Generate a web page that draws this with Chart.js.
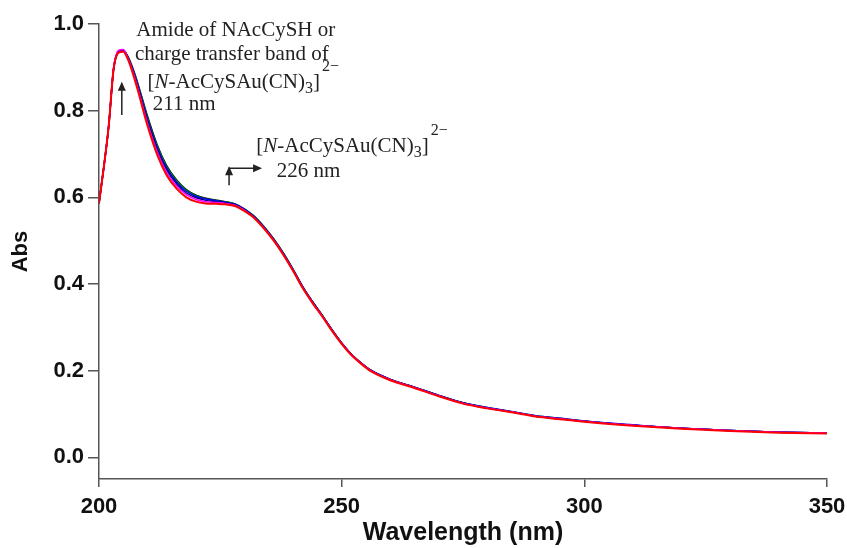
<!DOCTYPE html>
<html>
<head>
<meta charset="utf-8">
<script src="https://cdn.jsdelivr.net/npm/chart.js@4.4.1/dist/chart.umd.min.js"></script>
<style>
  body { margin: 0; background: #fff; }
  canvas { display: block; }
</style>
</head>
<body>
<canvas id="spectra" width="847" height="548"></canvas>
<script>
// wavelengths (nm)
const wavelengths = [200,201,202,203,204,205,206,207,208,210,212,214,216,218,220,222,224,226,228,230,232,234,236,238,240,242,244,246,248,250,252,254,256,260,265,270,275,280,285,290,295,300,310,320,330,340,350]

// absorbance of each scan
const absRed     = [0.586,0.670,0.765,0.895,0.934,0.936,0.917,0.885,0.847,0.765,0.698,0.650,0.620,0.600,0.590,0.586,0.585,0.584,0.580,0.568,0.552,0.528,0.500,0.467,0.430,0.390,0.356,0.325,0.292,0.262,0.236,0.216,0.199,0.178,0.160,0.141,0.124,0.113,0.104,0.094,0.088,0.082,0.073,0.066,0.061,0.057,0.055]
const absMagenta = [0.588,0.672,0.766,0.898,0.939,0.941,0.920,0.889,0.852,0.771,0.705,0.656,0.626,0.606,0.595,0.590,0.588,0.586,0.582,0.570,0.553,0.529,0.501,0.468,0.431,0.391,0.357,0.326,0.293,0.263,0.237,0.217,0.200,0.179,0.161,0.142,0.125,0.114,0.105,0.095,0.089,0.083,0.074,0.067,0.062,0.058,0.056]
const absNavy    = [0.587,0.671,0.765,0.896,0.936,0.940,0.921,0.891,0.855,0.776,0.710,0.662,0.631,0.610,0.599,0.593,0.590,0.588,0.583,0.571,0.554,0.530,0.502,0.469,0.432,0.392,0.358,0.327,0.294,0.263,0.237,0.217,0.200,0.179,0.161,0.142,0.125,0.114,0.105,0.095,0.089,0.083,0.074,0.067,0.062,0.058,0.056]
const absBlue    = [0.587,0.671,0.765,0.896,0.936,0.939,0.922,0.893,0.858,0.780,0.714,0.666,0.635,0.614,0.602,0.596,0.592,0.589,0.584,0.572,0.555,0.531,0.503,0.470,0.433,0.393,0.359,0.327,0.294,0.264,0.238,0.218,0.201,0.180,0.162,0.143,0.126,0.115,0.106,0.096,0.090,0.084,0.075,0.067,0.062,0.058,0.056]
const absGreen   = [0.586,0.670,0.764,0.895,0.934,0.938,0.923,0.895,0.861,0.784,0.718,0.670,0.639,0.617,0.604,0.597,0.593,0.590,0.585,0.573,0.556,0.532,0.504,0.471,0.434,0.394,0.359,0.328,0.295,0.264,0.238,0.218,0.201,0.180,0.162,0.143,0.126,0.115,0.105,0.096,0.090,0.084,0.074,0.067,0.062,0.058,0.056]
const absBlack   = [0.586,0.670,0.764,0.895,0.935,0.939,0.924,0.897,0.863,0.787,0.721,0.672,0.640,0.618,0.605,0.598,0.594,0.590,0.585,0.573,0.556,0.532,0.504,0.471,0.433,0.393,0.359,0.327,0.294,0.264,0.238,0.218,0.201,0.180,0.162,0.143,0.126,0.114,0.105,0.095,0.089,0.083,0.074,0.067,0.062,0.058,0.056]

const xTicks = [200, 250, 300, 350]
const yTicks = [0.0, 0.2, 0.4, 0.6, 0.8, 1.0]

Chart.defaults.font.family = '"Liberation Sans", Arial, sans-serif'
Chart.defaults.color = '#000'

function scan(values, color, width) {
    return {
        data: wavelengths.map((w, i) => ({ x: w, y: values[i] })),
        borderColor: color,
        borderWidth: width,
        pointRadius: 0,
        cubicInterpolationMode: 'monotone',
        fill: false
    }
}

// draws text pieces one after another (italic, sub, sup)
function richText(ctx, parts, x, y) {
    let cx = x
    parts.forEach(p => {
        const size = p.small ? 16 : 21
        ctx.font = (p.italic ? 'italic ' : '') + size + 'px "Liberation Serif", "Times New Roman", serif'
        ctx.fillText(p.t, cx, y + (p.dy || 0))
        cx += ctx.measureText(p.t).width + (p.gap || 0)
    })
}

function arrowHead(ctx, x, y, dir) {
    ctx.beginPath()
    if (dir === 'up') {
        ctx.moveTo(x, y); ctx.lineTo(x - 4, y + 9); ctx.lineTo(x + 4, y + 9)
    } else {
        ctx.moveTo(x, y); ctx.lineTo(x - 9, y - 4); ctx.lineTo(x - 9, y + 4)
    }
    ctx.closePath()
    ctx.fill()
}

const complexParts = [
    { t: '[' }, { t: 'N', italic: true }, { t: '-AcCySAu(CN)' },
    { t: '3', small: true, dy: 5 }, { t: ']', gap: 2 }, { t: '2\u2212', small: true, dy: -17 }
]

const annotations = {
    id: 'annotations',
    afterDraw(chart) {
        const ctx = chart.ctx
        const xs = chart.scales.x
        const ys = chart.scales.y
        const px = v => xs.getPixelForValue(v)
        const py = v => ys.getPixelForValue(v)

        ctx.save()
        ctx.fillStyle = '#222'
        ctx.strokeStyle = '#222'
        ctx.lineWidth = 1.5
        ctx.textBaseline = 'alphabetic'
        ctx.textAlign = 'left'

        // 211 nm band
        richText(ctx, [{ t: 'Amide of NAcCySH or' }], px(207.7), py(0.972))
        richText(ctx, [{ t: 'charge transfer band of' }], px(207.4), py(0.917))
        richText(ctx, complexParts, px(210.0), py(0.852))
        richText(ctx, [{ t: '211 nm' }], px(211.1), py(0.801))

        ctx.beginPath()
        ctx.moveTo(px(204.7), py(0.790))
        ctx.lineTo(px(204.7), py(0.862))
        ctx.stroke()
        arrowHead(ctx, px(204.7), py(0.867), 'up')

        // 226 nm band
        richText(ctx, complexParts, px(232.4), py(0.705))
        richText(ctx, [{ t: '226 nm' }], px(236.6), py(0.647))

        ctx.beginPath()
        ctx.moveTo(px(226.8), py(0.628))
        ctx.lineTo(px(226.8), py(0.667))
        ctx.lineTo(px(233.0), py(0.667))
        ctx.stroke()
        arrowHead(ctx, px(226.8), py(0.672), 'up')
        arrowHead(ctx, px(233.6), py(0.667), 'right')

        ctx.restore()
    }
}

new Chart(document.getElementById('spectra'), {
    type: 'line',
    data: {
        datasets: [
            scan(absRed, '#ff0000', 2),
            scan(absMagenta, '#ff00ff', 1.5),
            scan(absNavy, '#000080', 1.5),
            scan(absBlue, '#0000ff', 1.5),
            scan(absGreen, '#008000', 1.5),
            scan(absBlack, '#000000', 1.5)
        ]
    },
    options: {
        responsive: false,
        animation: false,
        layout: { padding: { top: 24, right: 20, left: 0, bottom: 0 } },
        plugins: { legend: { display: false }, tooltip: { enabled: false } },
        scales: {
            x: {
                type: 'linear',
                min: 200,
                max: 350,
                afterBuildTicks: axis => { axis.ticks = xTicks.map(v => ({ value: v })) },
                afterFit: axis => {
                    axis.height = 69
                    axis.paddingLeft = 0
                    axis.paddingRight = 0
                },
                border: { display: true, color: '#555', width: 1.5 },
                grid: { display: true, drawOnChartArea: false, drawTicks: true, tickLength: 8, color: '#555', lineWidth: 1.5 },
                ticks: { padding: 7, font: { size: 22, weight: 'bold' }, color: '#111', maxRotation: 0 },
                title: {
                    display: true,
                    text: 'Wavelength (nm)',
                    font: { size: 25, weight: 'bold' },
                    color: '#111',
                    padding: { top: 0, bottom: 0 }
                }
            },
            y: {
                type: 'linear',
                min: -0.05,
                max: 1.0,
                afterBuildTicks: axis => { axis.ticks = yTicks.map(v => ({ value: v })) },
                afterFit: axis => {
                    axis.width = 99
                    axis.paddingTop = 0
                    axis.paddingBottom = 0
                },
                border: { display: true, color: '#555', width: 1.5 },
                grid: { display: true, drawOnChartArea: false, drawTicks: true, tickLength: 11, color: '#555', lineWidth: 1.5 },
                ticks: {
                    padding: 4,
                    font: { size: 22, weight: 'bold' },
                    color: '#111',
                    callback: value => value.toFixed(1)
                },
                title: {
                    display: true,
                    text: 'Abs',
                    font: { size: 22, weight: 'bold' },
                    color: '#111',
                    padding: { top: 8, bottom: 0 }
                }
            }
        }
    },
    plugins: [annotations]
})
</script>
</body>
</html>
